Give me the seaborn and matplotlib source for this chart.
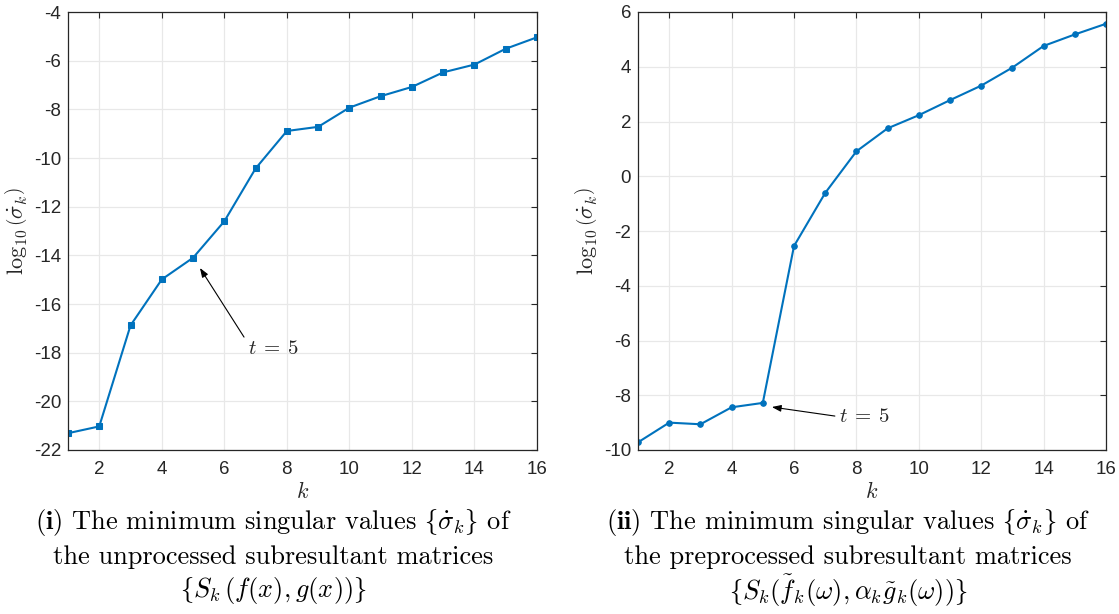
import numpy as np
import pandas as pd
import seaborn as sns
import matplotlib.pyplot as plt

# ---- data ----
k_values = list(range(1, 17))
log_sigma_unprocessed = [-21.31, -21.03, -16.88, -14.99, -14.10, -12.60, -10.43, -8.89,
                         -8.72, -7.93, -7.46, -7.08, -6.48, -6.16, -5.51, -5.04]
log_sigma_preprocessed = [-9.72, -9.00, -9.06, -8.44, -8.28, -2.55, -0.61, 0.91,
                          1.75, 2.23, 2.78, 3.31, 3.97, 4.76, 5.18, 5.57]
x_ticks = [2, 4, 6, 8, 10, 12, 14, 16]
y_ticks_left = list(range(-22, -3, 2))
y_ticks_right = list(range(-10, 7, 2))

captions_left = [r"$\mathbf{(i)}$ The minimum singular values $\lbrace\dot{\sigma}_k\rbrace$ of",
                 "the unprocessed subresultant matrices",
                 r"$\lbrace S_k\,(f(x), g(x))\rbrace$"]
captions_right = [r"$\mathbf{(ii)}$ The minimum singular values $\lbrace\dot{\sigma}_k\rbrace$ of",
                  "the preprocessed subresultant matrices",
                  r"$\lbrace S_k(\tilde{f}_k(\omega), \alpha_k\tilde{g}_k(\omega))\rbrace$"]

df1 = pd.DataFrame({"k": k_values, "v": log_sigma_unprocessed})
df2 = pd.DataFrame({"k": k_values, "v": log_sigma_preprocessed})

sns.set_style("whitegrid")
plt.rcParams.update({
    "font.family": ["Liberation Sans", "DejaVu Sans"],
    "mathtext.fontset": "cm",
    "axes.unicode_minus": False,
})

BLUE = "#0072BD"
DARK = "#262626"
GRID = "#E8E8E8"

W, H = 1119, 614
fig = plt.figure(figsize=(W / 100, H / 100), dpi=100)
ax1 = fig.add_axes([68 / W, 164 / H, 469 / W, 438 / H])
ax2 = fig.add_axes([638 / W, 164 / H, 468 / W, 438 / H])

sns.lineplot(data=df1, x="k", y="v", ax=ax1, color=BLUE, lw=1.5,
             marker="s", markersize=4.5, markeredgecolor=BLUE)
sns.lineplot(data=df2, x="k", y="v", ax=ax2, color=BLUE, lw=1.5,
             marker="o", markersize=4.0, markeredgecolor=BLUE)

for ax, yt in ((ax1, y_ticks_left), (ax2, y_ticks_right)):
    ax.set_xlim(1, 16)
    ax.set_ylim(yt[0], yt[-1])
    ax.set_xticks(x_ticks)
    ax.set_yticks(yt)
    ax.set_yticklabels([str(v) for v in yt])
    ax.grid(True, color=GRID, lw=0.9)
    for s in ax.spines.values():
        s.set_color(DARK)
        s.set_linewidth(0.9)
        s.set_visible(True)
    ax.tick_params(direction="in", top=True, right=True, length=4, width=0.8,
                   color=DARK, labelcolor=DARK, labelsize=13.5)
    ax.tick_params(axis="x", pad=8)
    ax.tick_params(axis="y", pad=5)
    ax.set_xlabel(r"$k$", fontsize=16, color=DARK, labelpad=3)
    ax.set_ylabel(r"$\log_{10}\left(\dot{\sigma}_k\right)$", fontsize=16,
                  color=DARK, labelpad=3)

arrow = dict(arrowstyle="-|>,head_length=0.55,head_width=0.2", color="black",
             lw=0.8, shrinkA=0, shrinkB=0)
ax1.annotate("", xy=(5.22, -14.52), xytext=(6.63, -17.36), arrowprops=arrow)
ax1.text(6.76, -17.81, r"$t\:=\:5$", fontsize=15, ha="left", va="center")
ax2.annotate("", xy=(5.29, -8.43), xytext=(7.31, -8.76), arrowprops=arrow)
ax2.text(7.44, -8.76, r"$t\:=\:5$", fontsize=15, ha="left", va="center")

for cx, lines in ((273, captions_left), (848, captions_right)):
    for y, txt in zip((522, 557, 591), lines):
        fig.text(cx / W, 1 - y / H, txt, ha="center", va="center",
                 fontsize=19, family="cmr10", color="black")

fig.savefig("out.png", dpi=100)
